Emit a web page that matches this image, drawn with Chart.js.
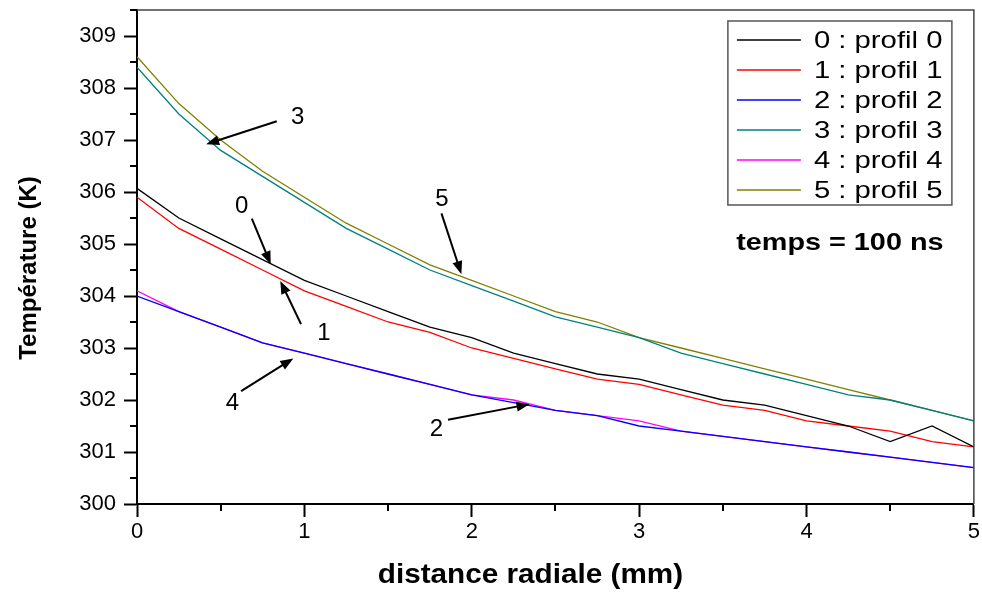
<!DOCTYPE html>
<html>
<head>
<meta charset="utf-8">
<script src="https://cdn.jsdelivr.net/npm/chart.js@4.4.1/dist/chart.umd.min.js"></script>
<style>
    html, body { margin: 0; padding: 0; background: #fff; }
</style>
</head>
<body>
<canvas id="myChart" width="982" height="594"></canvas>
<script>
// radial distance (mm)
const distances = [0, 0.25, 0.5, 0.75, 1, 1.25, 1.5, 1.75, 2, 2.25, 2.5, 2.75, 3, 3.25, 3.5, 3.75, 4, 4.25, 4.5, 4.75, 5];

// temperature (K) for each profile
const profil0 = [306.07, 305.5, 305.1, 304.7, 304.3, 304.0, 303.7, 303.4, 303.2, 302.9, 302.7, 302.5, 302.4, 302.2, 302.0, 301.9, 301.7, 301.5, 301.2, 301.5, 301.1];
const profil1 = [305.9, 305.3, 304.9, 304.5, 304.1, 303.8, 303.5, 303.3, 303.0, 302.8, 302.6, 302.4, 302.3, 302.1, 301.9, 301.8, 301.6, 301.5, 301.4, 301.2, 301.1];
const profil2 = [304.0, 303.7, 303.4, 303.1, 302.9, 302.7, 302.5, 302.3, 302.1, 301.95, 301.8, 301.7, 301.5, 301.4, 301.3, 301.2, 301.1, 301.0, 300.9, 300.8, 300.7];
const profil3 = [308.4, 307.5, 306.8, 306.3, 305.8, 305.3, 304.9, 304.5, 304.2, 303.9, 303.6, 303.4, 303.2, 302.9, 302.7, 302.5, 302.3, 302.1, 302.0, 301.8, 301.6];
const profil4 = [304.1, 303.7, 303.4, 303.1, 302.9, 302.7, 302.5, 302.3, 302.1, 302.0, 301.8, 301.7, 301.6, 301.4, 301.3, 301.2, 301.1, 301.0, 300.9, 300.8, 300.7];
const profil5 = [308.6, 307.7, 307.0, 306.4, 305.9, 305.4, 305.0, 304.6, 304.3, 304.0, 303.7, 303.5, 303.2, 303.0, 302.8, 302.6, 302.4, 302.2, 302.0, 301.8, 301.6];

const seriesNames = ['0 : profil 0', '1 : profil 1', '2 : profil 2', '3 : profil 3', '4 : profil 4', '5 : profil 5'];
const seriesValues = [profil0, profil1, profil2, profil3, profil4, profil5];
const seriesColors = ['#000000', '#ff0000', '#0000ff', '#008080', '#ff00ff', '#808000'];

const xTickLabels = [0, 1, 2, 3, 4, 5];
const yTickLabels = [300, 301, 302, 303, 304, 305, 306, 307, 308, 309];

// arrow callouts, in data units: label position, arrow tail, arrow tip
const callouts = [
    { text: '3', label: [0.96, 307.44], from: [0.835, 307.36], to: [0.413, 306.92] },
    { text: '0', label: [0.626, 305.72], from: [0.686, 305.49], to: [0.799, 304.61] },
    { text: '1', label: [1.117, 303.28], from: [0.98, 303.46], to: [0.856, 304.29] },
    { text: '4', label: [0.57, 301.94], from: [0.622, 302.17], to: [0.934, 302.8] },
    { text: '5', label: [1.822, 305.85], from: [1.819, 305.59], to: [1.938, 304.42] },
    { text: '2', label: [1.789, 301.44], from: [1.858, 301.62], to: [2.345, 301.92] }
];
const noteText = 'temps = 100 ns';
const notePos = [3.58, 305.02];
const xTitle = 'distance radiale (mm)';
const yTitle = 'Température (K)';

const FONT = "'Liberation Sans', Arial, sans-serif";

// text drawn a bit wider than the font, like the original export
function wideText(ctx, text, x, y, sx, align) {
    ctx.save();
    ctx.translate(x, y);
    ctx.scale(sx, 1);
    ctx.textAlign = align;
    ctx.fillText(text, 0, 0);
    ctx.restore();
}

const decorations = {
    id: 'decorations',
    afterDraw(chart) {
        const ctx = chart.ctx;
        const area = chart.chartArea;
        const xs = chart.scales.x, ys = chart.scales.y;
        ctx.save();

        // top and right frame
        ctx.strokeStyle = '#444';
        ctx.lineWidth = 1.5;
        ctx.beginPath();
        ctx.moveTo(area.left, area.top);
        ctx.lineTo(area.right, area.top);
        ctx.lineTo(area.right, area.bottom);
        ctx.stroke();

        // minor ticks
        ctx.strokeStyle = '#000';
        ctx.lineWidth = 2;
        ctx.beginPath();
        ys.ticks.forEach(t => {
            if (!yTickLabels.includes(t.value)) {
                const py = Math.round(ys.getPixelForValue(t.value));
                ctx.moveTo(area.left - 7, py);
                ctx.lineTo(area.left, py);
            }
        });
        xs.ticks.forEach(t => {
            if (!xTickLabels.includes(t.value)) {
                const px = Math.round(xs.getPixelForValue(t.value));
                ctx.moveTo(px, area.bottom);
                ctx.lineTo(px, area.bottom + 7);
            }
        });
        ctx.stroke();

        // axis titles
        ctx.fillStyle = '#000';
        ctx.textBaseline = 'middle';
        ctx.font = 'bold 27px ' + FONT;
        wideText(ctx, xTitle, (area.left + area.right) / 2 - 25, 576, 1.1, 'center');
        ctx.save();
        ctx.translate(29, 268);
        ctx.rotate(-Math.PI / 2);
        ctx.font = 'bold 24px ' + FONT;
        ctx.textAlign = 'center';
        ctx.fillText(yTitle, 0, 0);
        ctx.restore();

        // callouts
        ctx.font = '24px ' + FONT;
        ctx.textAlign = 'center';
        callouts.forEach(c => {
            const lx = xs.getPixelForValue(c.label[0]), ly = ys.getPixelForValue(c.label[1]);
            ctx.fillText(c.text, lx, ly);
            const x0 = xs.getPixelForValue(c.from[0]), y0 = ys.getPixelForValue(c.from[1]);
            const x1 = xs.getPixelForValue(c.to[0]), y1 = ys.getPixelForValue(c.to[1]);
            const ang = Math.atan2(y1 - y0, x1 - x0);
            const headLen = 13, headW = 5;
            ctx.lineWidth = 2;
            ctx.beginPath();
            ctx.moveTo(x0, y0);
            ctx.lineTo(x1 - Math.cos(ang) * headLen * 0.8, y1 - Math.sin(ang) * headLen * 0.8);
            ctx.stroke();
            ctx.beginPath();
            ctx.moveTo(x1, y1);
            ctx.lineTo(x1 - Math.cos(ang) * headLen - Math.sin(ang) * headW, y1 - Math.sin(ang) * headLen + Math.cos(ang) * headW);
            ctx.lineTo(x1 - Math.cos(ang) * headLen + Math.sin(ang) * headW, y1 - Math.sin(ang) * headLen - Math.cos(ang) * headW);
            ctx.closePath();
            ctx.fill();
        });

        // note
        ctx.font = 'bold 24px ' + FONT;
        wideText(ctx, noteText, xs.getPixelForValue(notePos[0]), ys.getPixelForValue(notePos[1]), 1.2, 'left');

        // legend box
        const bx = area.right - 246, by = area.top + 11, bw = 224, bh = 184;
        ctx.fillStyle = '#fff';
        ctx.fillRect(bx, by, bw, bh);
        ctx.strokeStyle = '#555';
        ctx.lineWidth = 1.5;
        ctx.strokeRect(bx, by, bw, bh);
        ctx.font = '24px ' + FONT;
        chart.data.datasets.forEach((ds, i) => {
            const ry = by + 19 + i * 30;
            ctx.strokeStyle = ds.borderColor;
            ctx.lineWidth = 1.3;
            ctx.beginPath();
            ctx.moveTo(bx + 9, ry);
            ctx.lineTo(bx + 73, ry);
            ctx.stroke();
            ctx.fillStyle = '#000';
            wideText(ctx, ds.label, bx + 86, ry + 1, 1.22, 'left');
        });
        ctx.restore();
    }
};

new Chart(document.getElementById('myChart'), {
    type: 'line',
    data: {
        datasets: seriesValues.map((vals, i) => ({
            label: seriesNames[i],
            data: distances.map((d, j) => ({ x: d, y: vals[j] })),
            borderColor: seriesColors[i],
            backgroundColor: seriesColors[i],
            borderWidth: 1.3,
            pointRadius: 0,
            tension: 0,
            fill: false
        }))
    },
    options: {
        responsive: false,
        animation: false,
        devicePixelRatio: 1,
        layout: { padding: { top: 10, right: 7, left: 0, bottom: 0 } },
        plugins: {
            legend: { display: false },
            tooltip: { enabled: false },
            title: { display: false }
        },
        scales: {
            x: {
                type: 'linear',
                min: 0,
                max: 5,
                afterFit: (scale) => { scale.height = 90; },
                border: { display: true, color: '#000', width: 2 },
                grid: {
                    drawOnChartArea: false,
                    drawTicks: true,
                    tickLength: 13,
                    tickWidth: 2,
                    tickColor: (c) => (c.tick && xTickLabels.includes(c.tick.value)) ? '#000' : 'rgba(0,0,0,0)'
                },
                ticks: {
                    stepSize: 0.5,
                    autoSkip: false,
                    maxRotation: 0,
                    color: '#000',
                    padding: 2,
                    font: { family: FONT, size: 22 },
                    callback: (v) => xTickLabels.includes(v) ? String(v) : ''
                },
                title: { display: false }
            },
            y: {
                min: 300,
                max: 309.5,
                afterFit: (scale) => {
                    scale.width = 137;
                    scale.paddingTop = 0;
                    scale.paddingBottom = 0;
                },
                border: { display: true, color: '#000', width: 2 },
                grid: {
                    drawOnChartArea: false,
                    drawTicks: true,
                    tickLength: 13,
                    tickWidth: 2,
                    tickColor: (c) => (c.tick && yTickLabels.includes(c.tick.value)) ? '#000' : 'rgba(0,0,0,0)'
                },
                ticks: {
                    stepSize: 0.5,
                    autoSkip: false,
                    color: '#000',
                    padding: 8,
                    font: { family: FONT, size: 22 },
                    callback: (v) => yTickLabels.includes(v) ? String(v) : ''
                },
                title: { display: false }
            }
        }
    },
    plugins: [decorations]
});
</script>
</body>
</html>
